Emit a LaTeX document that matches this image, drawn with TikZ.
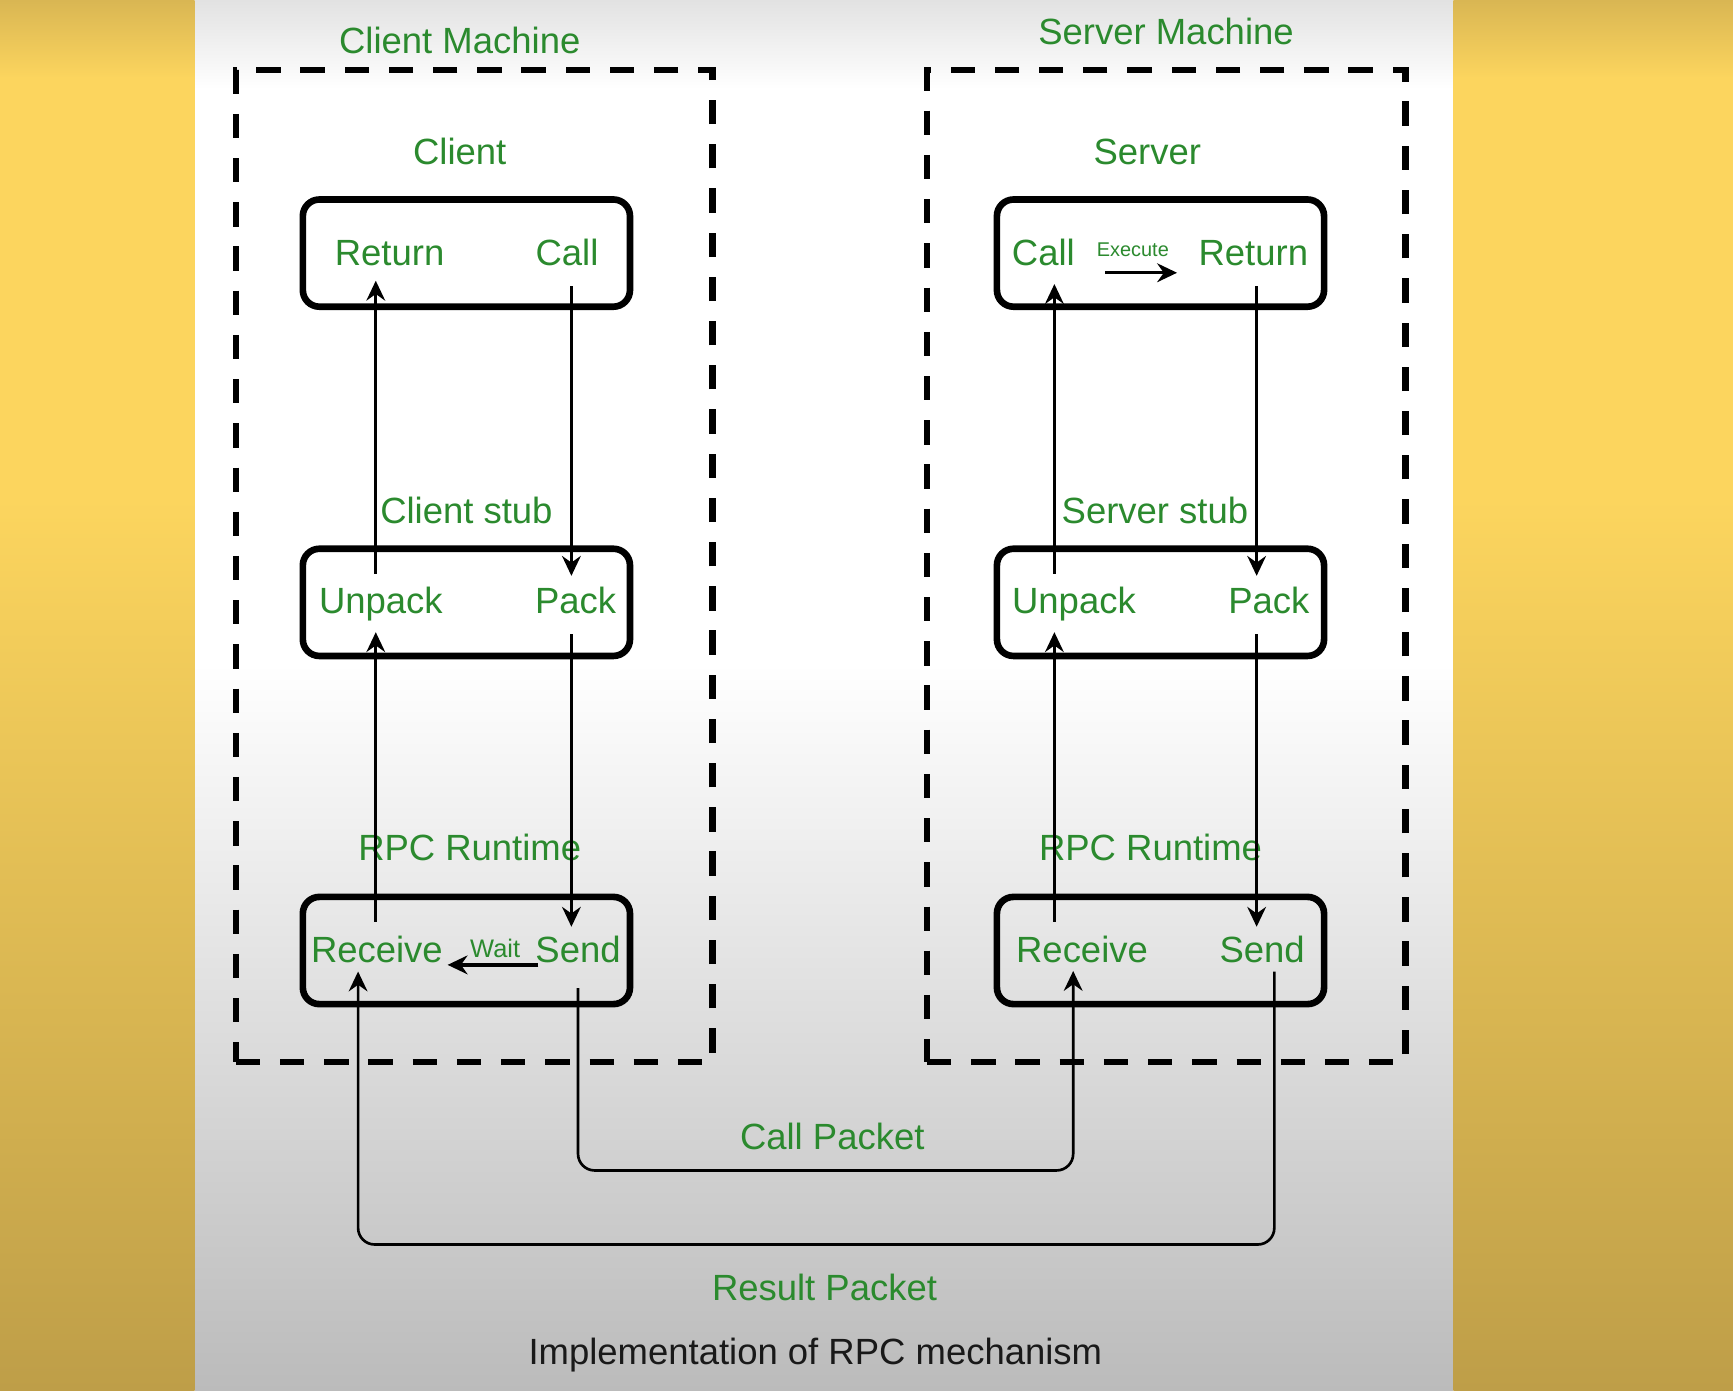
\documentclass[tikz,border=0pt]{standalone}
\usepackage{fontspec}
\setmainfont{Liberation Sans}
\usetikzlibrary{arrows.meta}
\definecolor{tgreen}{HTML}{2B8A2E}
\definecolor{ytop}{HTML}{D9B653}
\definecolor{ymid}{HTML}{FCD55E}
\definecolor{ybot}{HTML}{BE9E48}
\definecolor{gtop}{HTML}{E2E2E2}
\definecolor{gbot}{HTML}{BBBBBB}
\begin{document}
\begin{tikzpicture}[x=0.5pt,y=-0.5pt,
  lbl/.style={text=tgreen,font=\fontsize{16.5}{20}\selectfont,anchor=base,inner sep=0pt},
  smalllbl/.style={text=tgreen,font=\fontsize{11.5}{13}\selectfont,anchor=base,inner sep=0pt},
  tinylbl/.style={text=tgreen,font=\fontsize{9}{11}\selectfont,anchor=base,inner sep=0pt},
  caption/.style={text=black!90,font=\fontsize{16.5}{20}\selectfont,anchor=base,inner sep=0pt},
  dbox/.style={draw=black,line width=3pt,dash pattern=on 11pt off 9pt,inner sep=0pt,outer sep=0pt,minimum height=448.8pt},
  sbox/.style={draw=black,line width=3pt,rounded corners=7.5pt,minimum width=148pt,minimum height=48.5pt,inner sep=0pt},
  arr/.style={draw=black,line width=1.2pt,-{Stealth[length=9pt,width=8.5pt,inset=3pt]}},
  harr/.style={draw=black,line width=1.5pt,-{Stealth[length=9pt,width=8.5pt,inset=3pt]}},
  pkt/.style={arr,rounded corners=7.5pt}]

\useasboundingbox (0,0) rectangle (1568,1258);

% background
\shade[top color=gtop,bottom color=white] (176,0) rectangle (1315,81);
\fill[white] (176,80) rectangle (1315,601);
\shade[top color=white,bottom color=gbot] (176,600) rectangle (1315,1258);
\foreach \xa/\xb in {0/176,1315/1568}{
  \shade[top color=ytop,bottom color=ymid] (\xa,0) rectangle (\xb,71);
  \fill[ymid] (\xa,70) rectangle (\xb,451);
  \shade[top color=ymid,bottom color=ybot] (\xa,450) rectangle (\xb,1258);
}

% machine boxes
\node[dbox,minimum width=215.7pt] (cmach) at (429.1,512.2) {};
\node[dbox,minimum width=216.4pt] (smach) at (1055.2,512.2) {};
\node[lbl] (cmachl) at (416,48.5) {Client Machine};
\node[lbl] (smachl) at (1055,40) {Server Machine};

% layer boxes
\node[sbox] (cb1) at (422,229) {};
\node[sbox] (cb2) at (422,545) {};
\node[sbox] (cb3) at (422,860) {};
\node[sbox] (sb1) at (1050,229) {};
\node[sbox] (sb2) at (1050,545) {};
\node[sbox] (sb3) at (1050,860) {};

% layer titles
\node[lbl] (ct1) at (416,148.6) {Client};
\node[lbl] (st1) at (1038,148.6) {Server};
\node[lbl] (ct2) at (422,473.4) {Client stub};
\node[lbl] (st2) at (1045,473.4) {Server stub};
\node[lbl] (ct3) at (425,779) {RPC Runtime};
\node[lbl] (st3) at (1041,779) {RPC Runtime};

% client texts
\node[lbl] (cReturn) at (352.5,240) {Return};
\node[lbl] (cCall) at (513,240) {Call};
\node[lbl] (cUnpack) at (344.6,555.5) {Unpack};
\node[lbl] (cPack) at (520.8,555.5) {Pack};
\node[lbl] (cRecv) at (341,871) {Receive};
\node[lbl] (cSend) at (523,871) {Send};
\node[smalllbl] (cWait) at (448,866) {Wait};

% server texts
\node[lbl] (sCall) at (944,240) {Call};
\node[tinylbl] (sExec) at (1025,231.7) {Execute};
\node[lbl] (sReturn) at (1134,240) {Return};
\node[lbl] (sUnpack) at (971.7,555.5) {Unpack};
\node[lbl] (sPack) at (1148,555.5) {Pack};
\node[lbl] (sRecv) at (979,871) {Receive};
\node[lbl] (sSend) at (1142,871) {Send};

% bottom labels
\node[lbl] (callpkt) at (753,1040) {Call Packet};
\node[lbl] (respkt) at (746,1176.5) {Result Packet};
\node[caption] (capt) at (737.7,1235) {Implementation of RPC mechanism};

% connector end points
\coordinate (cRecvT) at (340,834);
\coordinate (cUnpackB) at (340,572);
\coordinate (cUnpackT) at (340,519);
\coordinate (cReturnB) at (340,254);
\coordinate (cCallB) at (517,259);
\coordinate (cPackT) at (517,521);
\coordinate (cPackB) at (517,574);
\coordinate (cSendT) at (517,838.5);
\coordinate (cSendR) at (487,873);
\coordinate (cRecvR) at (405,873);
\coordinate (cSendB) at (523,894);
\coordinate (cRecvB) at (324,879);

\coordinate (sRecvT) at (954,834);
\coordinate (sUnpackB) at (954,572);
\coordinate (sUnpackT) at (954,519);
\coordinate (sCallB) at (954,257);
\coordinate (sReturnB) at (1137,259);
\coordinate (sPackT) at (1137,521);
\coordinate (sPackB) at (1137,574);
\coordinate (sSendT) at (1137,838.5);
\coordinate (sExecL) at (1000,246.8);
\coordinate (sExecR) at (1065,246.8);
\coordinate (sSendB) at (1153,879);
\coordinate (sRecvB) at (971,878.5);

% client arrows
\draw[arr] (cRecvT) -- (cUnpackB);
\draw[arr] (cUnpackT) -- (cReturnB);
\draw[arr] (cCallB) -- (cPackT);
\draw[arr] (cPackB) -- (cSendT);
\draw[harr] (cSendR) -- (cRecvR);

% server arrows
\draw[arr] (sRecvT) -- (sUnpackB);
\draw[arr] (sUnpackT) -- (sCallB);
\draw[arr] (sReturnB) -- (sPackT);
\draw[arr] (sPackB) -- (sSendT);
\draw[harr] (sExecL) -- (sExecR);

% packets
\draw[pkt] (cSendB) |- (752,1059) -| (sRecvB);
\draw[pkt] (sSendB) |- (740,1126) -| (cRecvB);
\end{tikzpicture}
\end{document}
